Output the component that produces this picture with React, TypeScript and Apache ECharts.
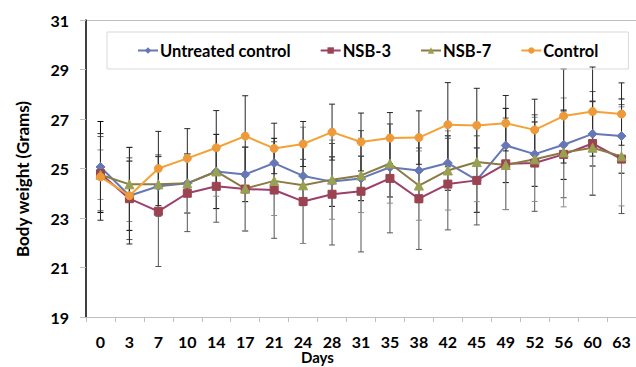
import React, { useEffect, useRef } from "react";
import * as echarts from "echarts";

const days = ["0", "3", "7", "10", "14", "17", "21", "24", "28", "31", "35", "38", "42", "45", "49", "52", "56", "60", "63"];

const untreated = [25.06, 23.9, 24.28, 24.4, 24.88, 24.76, 25.22, 24.7, 24.47, 24.6, 25.05, 24.92, 25.22, 24.53, 25.93, 25.58, 25.96, 26.4, 26.31];
const nsb3 = [24.79, 23.78, 23.27, 24.0, 24.28, 24.17, 24.13, 23.67, 23.96, 24.08, 24.6, 23.78, 24.37, 24.52, 25.19, 25.22, 25.57, 26.01, 25.38];
const nsb7 = [24.75, 24.36, 24.36, 24.4, 24.88, 24.19, 24.5, 24.32, 24.55, 24.72, 25.2, 24.31, 24.92, 25.26, 25.14, 25.37, 25.65, 25.84, 25.49];
const control = [24.66, 23.9, 25.0, 25.41, 25.84, 26.31, 25.81, 25.99, 26.47, 26.07, 26.23, 26.25, 26.77, 26.74, 26.83, 26.56, 27.12, 27.3, 27.2];

const untreatedErr = [1.84, 1.4, 1.2, 1.2, 1.5, 1.1, 1.0, 1.2, 1.0, 0.9, 1.2, 1.3, 1.1, 1.3, 1.5, 1.3, 1.4, 1.3, 1.5];
const nsb3Err = [1.5, 1.65, 2.23, 1.55, 1.45, 1.7, 1.95, 1.7, 2.05, 2.45, 2.2, 2.05, 1.85, 1.8, 1.85, 1.95, 1.75, 2.1, 2.2];
const nsb7Err = [1.0, 1.5, 1.2, 1.2, 1.0, 1.7, 1.4, 2.35, 1.6, 1.5, 1.6, 1.4, 1.6, 1.6, 1.8, 1.7, 2.2, 1.9, 2.0];
const controlErr = [1.75, 1.95, 1.5, 1.2, 1.5, 1.63, 1.02, 0.91, 1.13, 1.17, 1.03, 1.08, 1.7, 1.5, 1.12, 1.24, 1.9, 1.8, 1.26];

const yTicks = { min: 19, max: 31, interval: 2 };

const FONT = "Lato, 'Open Sans', sans-serif";

function errData(vals: number[], errs: number[]) {
  return vals.map((v, i) => [i, v - errs[i], v + errs[i]]);
}

function errSeries(vals: number[], errs: number[], color: string) {
  return {
    type: "custom",
    silent: true,
    z: 1,
    data: errData(vals, errs),
    renderItem: (params: any, api: any) => {
      const x = api.value(0);
      const lo = api.coord([x, api.value(1)]);
      const hi = api.coord([x, api.value(2)]);
      const w = 3;
      const style = { stroke: color, lineWidth: 1 };
      return {
        type: "group",
        children: [
          { type: "line", shape: { x1: lo[0], y1: lo[1], x2: hi[0], y2: hi[1] }, style },
          { type: "line", shape: { x1: lo[0] - w, y1: lo[1], x2: lo[0] + w, y2: lo[1] }, style },
          { type: "line", shape: { x1: hi[0] - w, y1: hi[1], x2: hi[0] + w, y2: hi[1] }, style },
        ],
      };
    },
  };
}

function lineSeries(name: string, data: number[], lineColor: string, markColor: string, symbol: string, size: number) {
  return {
    name,
    type: "line",
    data,
    z: 3,
    symbol,
    symbolSize: size,
    showSymbol: true,
    lineStyle: { color: lineColor, width: 2 },
    itemStyle: { color: markColor, borderColor: markColor },
  };
}

export default function App() {
  const ref = useRef<HTMLDivElement>(null);
  useEffect(() => {
    if (!ref.current) return;
    const chart = echarts.init(ref.current, null, { renderer: "svg" });
    chart.setOption({
      animation: false,
      backgroundColor: "#ffffff",
      textStyle: { fontFamily: FONT },
      grid: { left: 86, top: 20, right: -3, bottom: 50, containLabel: false },
      legend: {
        left: 107,
        top: 32,
        width: 490,
        padding: [10, 30],
        itemGap: 29,
        itemWidth: 20,
        itemHeight: 8,
        borderColor: "#d9d9d9",
        borderWidth: 1,
        textStyle: { fontFamily: FONT, fontSize: 16.5, fontWeight: "bold", color: "#000", padding: [0, 0, 0, -3] },
        data: ["Untreated control", "NSB-3", "NSB-7", "Control"],
      },
      graphic: [
        {
          type: "text",
          left: 301,
          top: 349,
          silent: true,
          style: { text: "Days", fontFamily: FONT, fontSize: 15, fontWeight: "bold", fill: "#000" },
        },
        {
          type: "text",
          x: 22,
          y: 179,
          rotation: Math.PI / 2,
          silent: true,
          style: {
            text: "Body weight (Grams)",
            fontFamily: FONT,
            fontSize: 17,
            fontWeight: "bold",
            fill: "#000",
            align: "center",
            verticalAlign: "middle",
          },
        },
      ],
      xAxis: {
        type: "category",
        data: days,
        boundaryGap: true,
        axisLine: { lineStyle: { color: "#bfbfbf", width: 1 } },
        axisTick: { show: true, length: 5, lineStyle: { color: "#bfbfbf" } },
        axisLabel: { fontFamily: FONT, fontSize: 16, fontWeight: "bold", color: "#000", margin: 16, interval: 0 },
      },
      yAxis: {
        type: "value",
        min: yTicks.min,
        max: yTicks.max,
        interval: yTicks.interval,
        axisLine: { show: true, lineStyle: { color: "#000", width: 1.5 } },
        axisTick: { show: true, length: 6, lineStyle: { color: "#bfbfbf" } },
        axisLabel: { fontFamily: FONT, fontSize: 16, fontWeight: "bold", color: "#000", margin: 17 },
        splitLine: {
          show: true,
          lineStyle: { color: ["transparent", "transparent", "transparent", "transparent", "transparent", "transparent", "#bfbfbf"], width: 1 },
        },
      },
      series: [
        errSeries(untreated, untreatedErr, "#000000"),
        errSeries(nsb3, nsb3Err, "#555555"),
        errSeries(nsb7, nsb7Err, "#8c8c8c"),
        errSeries(control, controlErr, "#262626"),
        lineSeries("Untreated control", untreated, "#6677B5", "#6677B5", "diamond", 9),
        lineSeries("NSB-3", nsb3, "#9C3F6B", "#9B4350", "rect", 8),
        lineSeries("NSB-7", nsb7, "#8B7A43", "#98A152", "triangle", 9),
        lineSeries("Control", control, "#F4A135", "#EE9A3A", "circle", 8),
      ],
    });
    return () => chart.dispose();
  }, []);
  return <div ref={ref} style={{ position: "absolute", left: 0, top: 0, width: 636, height: 367 }} />;
}
